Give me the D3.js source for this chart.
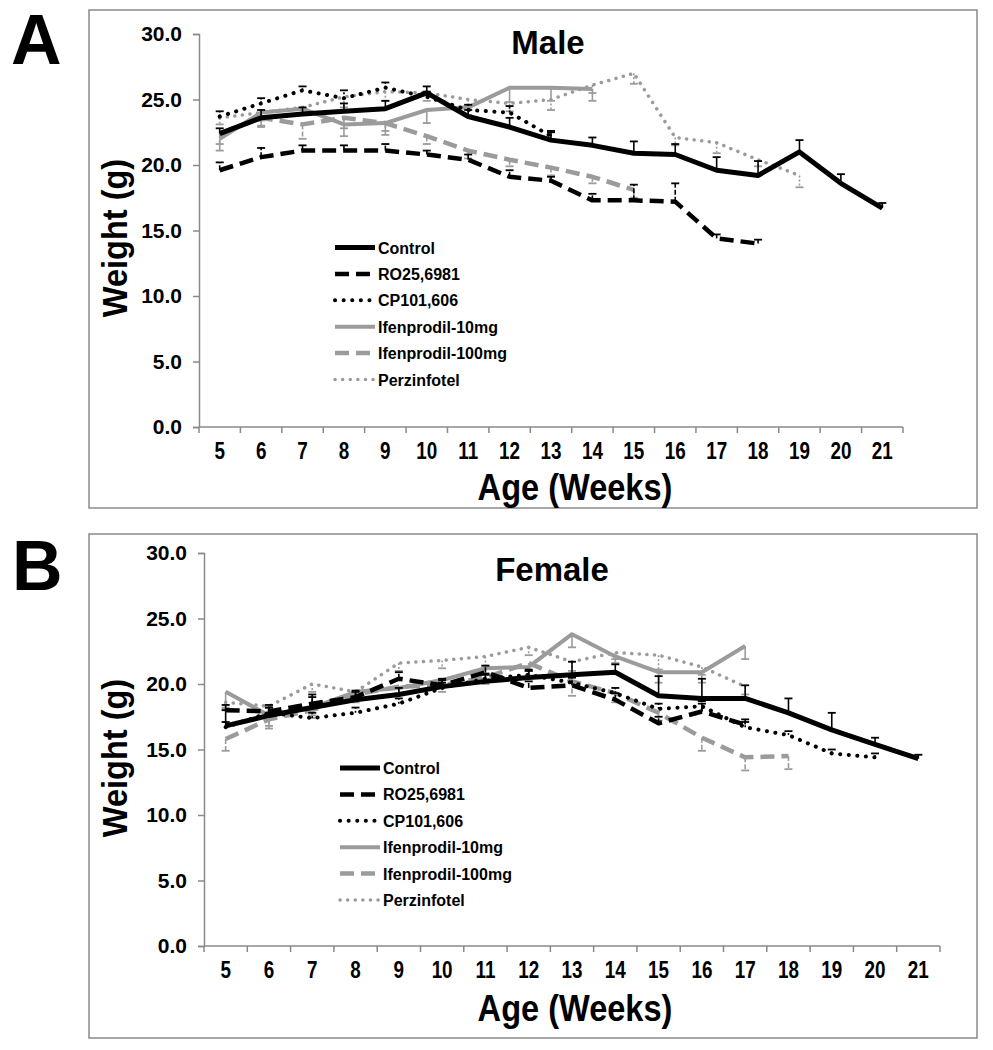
<!DOCTYPE html>
<html>
<head>
<meta charset="utf-8">
<script src="https://cdn.jsdelivr.net/npm/d3@7/dist/d3.min.js"></script>
<style>
  html, body { margin: 0; padding: 0; background: #fff; }
  svg text { font-family: "Liberation Sans", Arial, sans-serif; font-weight: bold; fill: #000; }
</style>
</head>
<body>
<svg id="chart" width="993" height="1050"></svg>
<script>
// ---------- data ----------
const weeks = [5, 6, 7, 8, 9, 10, 11, 12, 13, 14, 15, 16, 17, 18, 19, 20, 21];
const yTicks = [0, 5, 10, 15, 20, 25, 30];
const seriesNames = ["Control", "RO25,6981", "CP101,606", "Ifenprodil-10mg", "Ifenprodil-100mg", "Perzinfotel"];

// Male
const maleControl    = [22.4, 23.6, 23.9, 24.1, 24.3, 25.5, 23.7, 22.9, 21.9, 21.5, 20.9, 20.8, 19.6, 19.2, 21.0, 18.6, 16.7];
const maleControlErr = [0.4, 0.6, 0.5, 0.6, 0.6, 0.5, 0.5, 0.7, 0.6, 0.6, 0.9, 0.8, 1.0, 1.1, 0.9, 0.7, 0.4];
const maleRO         = [19.6, 20.6, 21.1, 21.1, 21.1, 20.8, 20.4, 19.1, 18.8, 17.3, 17.3, 17.2, 14.4, 14.0, null, null, null];
const maleROErr      = [0.6, 0.7, 0.4, 0.4, 0.5, 0.3, 0.4, 0.5, 0.3, 0.5, 1.2, 1.4, 0.3, 0.3, null, null, null];
const maleCP         = [23.7, 24.7, 25.7, 25.1, 25.9, 25.2, 24.2, 24.0, 22.2, null, null, null, null, null, null, null, null];
const maleCPErr      = [0.4, 0.4, 0.3, 0.6, 0.4, 0.4, 0.4, 0.5, 0.4, null, null, null, null, null, null, null, null];
const maleIfen10     = [22.0, 24.0, 24.3, 23.1, 23.2, 24.2, 24.4, 25.9, 25.9, 25.8, null, null, null, null, null, null, null];
const maleIfen10Err  = [0.9, 1.1, 0.5, 0.9, 0.9, 1.0, 0.6, 1.1, 1.0, 0.9, null, null, null, null, null, null, null];
const maleIfen100    = [22.4, 23.6, 23.1, 23.6, 23.2, 22.2, 21.1, 20.4, 19.8, 19.1, 18.1, null, null, null, null, null, null];
const maleIfen100Err = [0.8, 0.6, 1.1, 0.8, 0.6, 0.6, 0.6, 0.5, 0.6, 0.5, 0.6, null, null, null, null, null, null];
const malePerz       = [23.6, 24.0, 24.4, 25.2, 25.6, 25.5, 25.0, 24.7, 25.0, 26.1, 27.0, 22.1, 21.7, 20.4, 19.2, null, null];
const malePerzErr    = [0.5, 0.6, 0.5, 0.8, 0.7, 0.6, 0.6, 0.6, 0.8, 0.6, 0.8, 0.6, 0.8, 0.5, 0.9, null, null];

// Female
const femControl     = [16.8, 17.6, 18.2, 18.8, 19.2, 19.8, 20.2, 20.5, 20.7, 20.9, 19.1, 18.9, 18.9, 17.8, 16.5, 15.4, 14.3];
const femControlErr  = [1.2, 0.6, 1.0, 0.6, 0.5, 0.5, 0.5, 0.5, 1.0, 0.6, 1.5, 1.5, 1.0, 1.1, 1.3, 0.5, 0.3];
const femRO          = [18.0, 17.9, 18.5, 19.0, 20.4, 19.9, 20.9, 19.7, 19.9, 18.8, 17.0, 17.9, 16.9, null, null, null, null];
const femROErr       = [0.4, 0.5, 0.5, 0.5, 0.5, 0.5, 0.5, 0.5, 0.6, 0.5, 0.5, 0.6, 0.4, null, null, null, null];
const femCP          = [16.7, 17.8, 17.4, 17.8, 18.5, 19.7, 20.4, 20.7, 20.1, 19.3, 18.1, 18.3, 16.7, 16.1, 14.7, 14.4, null];
const femCPErr       = [0.4, 0.4, 0.4, 0.4, 0.4, 0.4, 0.4, 0.4, 0.4, 0.4, 0.4, 0.4, 0.4, 0.3, 0.3, 0.3, null];
const femIfen10      = [19.4, 17.6, 18.2, 19.4, 19.7, 20.3, 21.2, 21.3, 23.8, 22.1, 20.9, 20.9, 22.9, null, null, null, null];
const femIfen10Err   = [1.2, 0.8, 0.6, 0.6, 0.5, 0.5, 0.8, 0.8, 1.0, 0.5, 0.8, 0.8, 1.0, null, null, null, null];
const femIfen100     = [15.8, 17.3, 18.0, 19.2, 19.8, 19.9, 20.5, 21.6, 20.2, 19.3, 17.8, 15.9, 14.4, 14.5, null, null, null];
const femIfen100Err  = [0.9, 0.7, 0.6, 0.6, 0.6, 0.5, 0.5, 0.6, 1.1, 0.7, 0.6, 1.0, 1.0, 1.0, null, null, null];
const femPerz        = [18.6, 18.3, 20.0, 19.4, 21.6, 21.8, 22.1, 22.8, 21.7, 22.4, 22.2, 21.3, 19.8, null, null, null, null];
const femPerzErr     = [0.5, 0.6, 0.6, 0.6, 0.6, 0.6, 0.7, 0.6, 0.7, 0.5, 1.1, 0.6, 0.6, null, null, null, null];

// ---------- styles ----------
const GRAY = "#9b9b9b";
const styles = [
  { color: "#000", width: 5,   dash: null,      cap: "butt",  errDir: 1,  errDash: null },
  { color: "#000", width: 4.5, dash: "14,7",    cap: "butt",  errDir: 1,  errDash: "5,2" },
  { color: "#000", width: 4,   dash: "0.1,8.5", cap: "round", errDir: 1,  errDash: "2,2" },
  { color: GRAY,   width: 4,   dash: null,      cap: "butt",  errDir: -1, errDash: null },
  { color: GRAY,   width: 4.5, dash: "14,7",    cap: "butt",  errDir: -1, errDash: "5,2" },
  { color: GRAY,   width: 3.5, dash: "0.1,7.5", cap: "round", errDir: -1, errDash: "2,2" }
];

const svg = d3.select("#chart");

function drawPanel(cfg) {
  const g = svg.append("g");
  // frame
  g.append("rect").attr("x", cfg.frame[0]).attr("y", cfg.frame[1])
    .attr("width", cfg.frame[2]).attr("height", cfg.frame[3])
    .attr("fill", "none").attr("stroke", "#8a8a8a").attr("stroke-width", 1.5);

  // panel letter
  g.append("text").attr("x", cfg.letterX).attr("y", cfg.letterY)
    .style("font-size", "70px").text(cfg.letter);

  const x = d3.scaleBand().domain(weeks).range(cfg.xRange);
  const y = d3.scaleLinear().domain([0, 30]).range(cfg.yRange);
  const cx = d => x(d) + x.bandwidth() / 2;

  // y axis
  const yAxis = g.append("g").attr("transform", `translate(${cfg.xRange[0]},0)`)
    .call(d3.axisLeft(y).tickValues(yTicks).tickFormat(d3.format(".1f")).tickSize(6).tickPadding(11));
  yAxis.select(".domain").attr("stroke", "#8a8a8a").attr("stroke-width", 1.5);
  yAxis.selectAll(".tick line").attr("stroke", "#8a8a8a").attr("stroke-width", 1.5);
  yAxis.selectAll(".tick text").style("font-size", "21px").style("font-family", "'Liberation Sans', Arial, sans-serif").style("font-weight", "bold").attr("fill", "#000");

  // x axis (ticks between categories)
  const xg = g.append("g").attr("transform", `translate(0,${cfg.yRange[0]})`);
  xg.append("line").attr("x1", cfg.xRange[0]).attr("x2", cfg.xRange[1])
    .attr("y1", 0).attr("y2", 0).attr("stroke", "#8a8a8a").attr("stroke-width", 1.5);
  const edges = weeks.map(w => x(w)).concat([x(weeks[weeks.length - 1]) + x.bandwidth()]);
  xg.selectAll("line.tk").data(edges).enter().append("line").attr("class", "tk")
    .attr("x1", d => d).attr("x2", d => d).attr("y1", 0).attr("y2", 6)
    .attr("stroke", "#8a8a8a").attr("stroke-width", 1.5);
  xg.selectAll("text.tl").data(weeks).enter().append("text").attr("class", "tl")
    .attr("transform", d => `translate(${cx(d)},32) scale(0.82,1)`)
    .attr("text-anchor", "middle")
    .style("font-size", "23px").text(d => d);

  // titles
  g.append("text").attr("x", cfg.titleX).attr("y", cfg.titleY).attr("text-anchor", "middle")
    .style("font-size", "33px").text(cfg.title);
  g.append("text").attr("transform", `translate(${cfg.xTitleX},${cfg.xTitleY}) scale(0.88,1)`)
    .attr("text-anchor", "middle")
    .style("font-size", "37px").text("Age (Weeks)");
  g.append("text").attr("transform", `translate(${cfg.yTitleX},${cfg.yTitleY}) rotate(-90) scale(0.93,1)`)
    .attr("text-anchor", "middle").style("font-size", "35px").text("Weight (g)");

  // series
  const order = [5, 4, 3, 2, 1, 0];
  order.forEach(i => {
    const st = styles[i];
    const vals = cfg.series[i], errs = cfg.errors[i];
    const pts = weeks.map((w, k) => ({ w, v: vals[k], e: errs[k] })).filter(p => p.v != null);
    // error bars
    const eg = g.append("g");
    pts.forEach(p => {
      if (p.e == null) return;
      const y0 = y(p.v), y1 = y(p.v + st.errDir * p.e);
      eg.append("line").attr("x1", cx(p.w)).attr("x2", cx(p.w)).attr("y1", y0).attr("y2", y1)
        .attr("stroke", st.color).attr("stroke-width", 1.6)
        .attr("stroke-dasharray", st.errDash);
      eg.append("line").attr("x1", cx(p.w) - 4).attr("x2", cx(p.w) + 4).attr("y1", y1).attr("y2", y1)
        .attr("stroke", st.color).attr("stroke-width", 1.8);
    });
    const line = d3.line().x(p => cx(p.w)).y(p => y(p.v));
    g.append("path").datum(pts).attr("d", line)
      .attr("fill", "none").attr("stroke", st.color).attr("stroke-width", st.width)
      .attr("stroke-dasharray", st.dash).attr("stroke-linecap", st.cap)
      .attr("stroke-linejoin", "round");
  });

  // legend
  const lg = g.append("g");
  seriesNames.forEach((name, i) => {
    const st = styles[i];
    const yy = cfg.legendY + i * 26.4;
    lg.append("line").attr("x1", cfg.legendX).attr("x2", cfg.legendX + 40)
      .attr("y1", yy).attr("y2", yy)
      .attr("stroke", st.color).attr("stroke-width", st.width)
      .attr("stroke-dasharray", st.dash).attr("stroke-linecap", st.cap);
    lg.append("text").attr("x", cfg.legendX + 43).attr("y", yy + 6)
      .style("font-size", "16px").text(name);
  });
}

drawPanel({
  letter: "A", letterX: 11, letterY: 64,
  frame: [89, 10, 888, 498],
  xRange: [199, 903], yRange: [427, 34],
  title: "Male", titleX: 548, titleY: 54,
  xTitleX: 575, xTitleY: 500,
  yTitleX: 127, yTitleY: 238,
  legendX: 335, legendY: 247.5,
  series: [maleControl, maleRO, maleCP, maleIfen10, maleIfen100, malePerz],
  errors: [maleControlErr, maleROErr, maleCPErr, maleIfen10Err, maleIfen100Err, malePerzErr]
});

drawPanel({
  letter: "B", letterX: 12, letterY: 590,
  frame: [89, 534, 888, 504],
  xRange: [204, 940], yRange: [946, 553],
  title: "Female", titleX: 552, titleY: 581,
  xTitleX: 575, xTitleY: 1021,
  yTitleX: 127, yTitleY: 758,
  legendX: 340, legendY: 768,
  series: [femControl, femRO, femCP, femIfen10, femIfen100, femPerz],
  errors: [femControlErr, femROErr, femCPErr, femIfen10Err, femIfen100Err, femPerzErr]
});
</script>
</body>
</html>
